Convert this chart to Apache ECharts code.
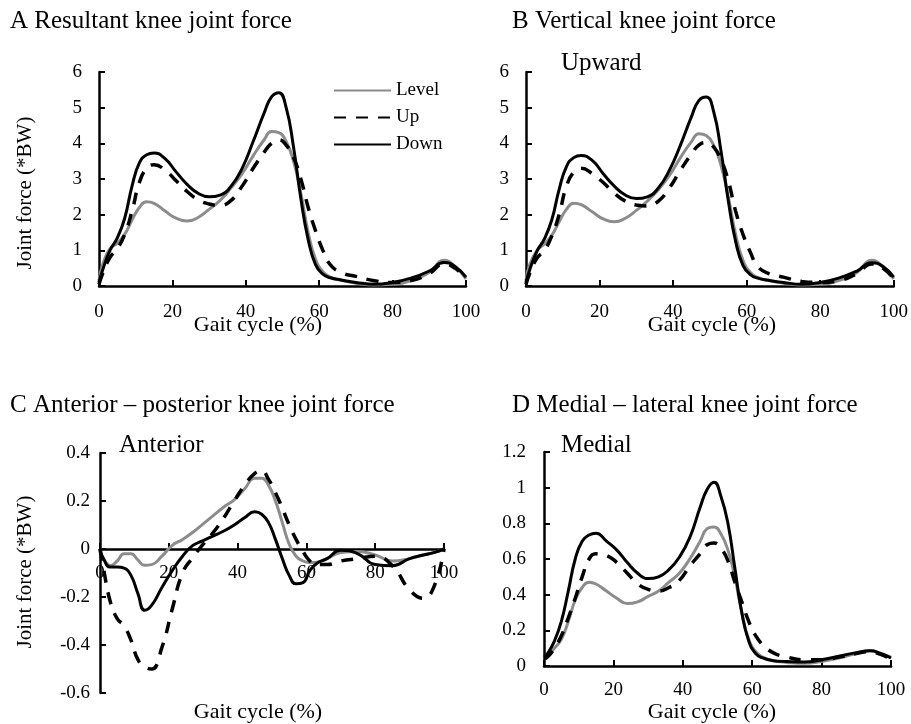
<!DOCTYPE html>
<html>
<head>
<meta charset="utf-8">
<script src="https://cdn.jsdelivr.net/npm/echarts@6/dist/echarts.min.js"></script>
<style>
  html, body { margin: 0; padding: 0; background: #fff; }
  #main { width: 911px; height: 724px; }
</style>
</head>
<body>
<div id="main"></div>
<script>
// gait cycle sample points (%)
var gait = [0,1,3,5,7,9,11,13,15,18,21,24,27,30,33,36,39,42,45,47,49,51,53,55,57,59,61,63,66,70,75,80,85,90,94,97,100];

// A resultant
var resLevel = [0.15,0.6,1.05,1.2,1.45,1.85,2.2,2.36,2.32,2.1,1.9,1.82,1.92,2.15,2.4,2.75,3.15,3.65,4.1,4.33,4.3,4.05,3.5,2.6,1.5,0.75,0.4,0.25,0.16,0.08,0.03,0.05,0.15,0.38,0.72,0.55,0.2];
var resUp    = [0.05,0.35,0.8,1.05,1.45,2.1,2.9,3.3,3.4,3.25,2.95,2.65,2.42,2.3,2.26,2.4,2.8,3.3,3.75,4.0,4.1,3.95,3.6,3.0,2.2,1.55,1.0,0.6,0.38,0.27,0.15,0.1,0.15,0.35,0.62,0.5,0.2];
var resDown  = [0.1,0.45,1.0,1.35,1.9,2.8,3.45,3.68,3.73,3.57,3.2,2.85,2.6,2.5,2.55,2.8,3.3,4.05,4.85,5.3,5.42,5.0,3.9,2.45,1.3,0.6,0.33,0.23,0.17,0.1,0.05,0.1,0.22,0.42,0.66,0.55,0.25];

// B vertical
var verLevel = [0.15,0.6,1.0,1.18,1.42,1.8,2.15,2.32,2.28,2.08,1.88,1.8,1.9,2.12,2.38,2.7,3.1,3.6,4.05,4.27,4.22,3.95,3.4,2.5,1.45,0.72,0.38,0.24,0.15,0.08,0.03,0.05,0.15,0.38,0.72,0.55,0.2];
var verUp    = [0.05,0.35,0.78,1.0,1.4,2.0,2.8,3.2,3.3,3.15,2.9,2.6,2.38,2.27,2.24,2.38,2.75,3.25,3.7,3.95,4.02,3.9,3.55,2.95,2.1,1.45,0.95,0.55,0.35,0.25,0.13,0.1,0.15,0.35,0.62,0.5,0.2];
var verDown  = [0.1,0.45,0.98,1.32,1.85,2.7,3.35,3.6,3.66,3.52,3.15,2.8,2.55,2.45,2.5,2.75,3.25,3.95,4.75,5.2,5.3,4.9,3.8,2.4,1.25,0.58,0.32,0.22,0.16,0.1,0.05,0.1,0.22,0.42,0.65,0.55,0.25];

// C anterior - posterior
var apLevel = [-0.01,-0.04,-0.07,-0.05,-0.02,-0.02,-0.045,-0.068,-0.065,-0.03,0.015,0.04,0.07,0.105,0.14,0.175,0.205,0.25,0.295,0.295,0.265,0.2,0.11,0.02,-0.03,-0.05,-0.056,-0.055,-0.04,-0.015,-0.01,-0.025,-0.05,-0.04,-0.025,-0.015,0];
var apUp    = [0,-0.08,-0.22,-0.29,-0.32,-0.38,-0.46,-0.49,-0.5,-0.41,-0.25,-0.1,-0.035,0.02,0.07,0.13,0.2,0.265,0.315,0.325,0.29,0.235,0.17,0.1,0.04,-0.01,-0.05,-0.065,-0.065,-0.05,-0.04,-0.03,-0.07,-0.17,-0.205,-0.16,0];
var apDown  = [0,-0.04,-0.075,-0.075,-0.08,-0.11,-0.185,-0.255,-0.235,-0.16,-0.09,-0.03,0.015,0.035,0.055,0.075,0.1,0.13,0.155,0.145,0.11,0.04,-0.04,-0.11,-0.145,-0.14,-0.09,-0.06,-0.04,-0.005,-0.02,-0.065,-0.07,-0.04,-0.025,-0.015,0];

// D medial - lateral
var mlLevel = [0.05,0.06,0.1,0.15,0.25,0.37,0.44,0.47,0.46,0.42,0.38,0.35,0.36,0.39,0.42,0.47,0.52,0.6,0.7,0.77,0.78,0.74,0.65,0.5,0.3,0.15,0.08,0.05,0.03,0.02,0.015,0.025,0.045,0.07,0.085,0.07,0.05];
var mlUp    = [0.04,0.05,0.1,0.17,0.27,0.38,0.5,0.6,0.63,0.62,0.58,0.52,0.46,0.43,0.42,0.44,0.48,0.56,0.63,0.68,0.69,0.66,0.59,0.47,0.36,0.25,0.17,0.12,0.075,0.05,0.035,0.035,0.05,0.07,0.08,0.065,0.04];
var mlDown  = [0.05,0.07,0.14,0.25,0.42,0.6,0.7,0.735,0.745,0.7,0.65,0.58,0.52,0.49,0.5,0.54,0.61,0.72,0.89,0.99,1.03,0.95,0.8,0.55,0.3,0.14,0.07,0.045,0.03,0.025,0.022,0.035,0.055,0.075,0.085,0.07,0.045];

var FONT = 'Liberation Serif';

function pairs(arr){
  return gait.map(function(x, i){ return [x, arr[i]]; });
}

function xAx(idx, margin, offset){
  return {
    type: 'value', gridIndex: idx, min: 0, max: 100, interval: 20, offset: offset || 0,
    axisLine: { onZero: false, lineStyle: { color: '#000', width: 2.5 } },
    axisTick: { inside: true, length: 6, lineStyle: { color: '#000', width: 2 } },
    axisLabel: { margin: margin, color: '#000', fontSize: 19, fontFamily: FONT },
    splitLine: { show: false }
  };
}
function yAx(idx, min, max, step, margin){
  return {
    type: 'value', gridIndex: idx, min: min, max: max, interval: step,
    axisLine: { show: true, onZero: false, lineStyle: { color: '#000', width: 2.5 } },
    axisTick: { show: true, inside: true, length: 6, lineStyle: { color: '#000', width: 2 } },
    axisLabel: { margin: margin, color: '#000', fontSize: 19, fontFamily: FONT },
    splitLine: { show: false }
  };
}
function trio(idx, lev, up, down){
  var base = { type: 'line', xAxisIndex: idx, yAxisIndex: idx, smooth: 0.5, symbol: 'none', showSymbol: false, silent: true };
  return [
    Object.assign({}, base, { name: 'Level', data: pairs(lev), lineStyle: { color: '#8c8c8c', width: 3 }, itemStyle: { color: '#8c8c8c' } }),
    Object.assign({}, base, { name: 'Up', data: pairs(up), lineStyle: { color: '#000', width: 3.5, type: [12, 10] }, itemStyle: { color: '#000' } }),
    Object.assign({}, base, { name: 'Down', data: pairs(down), lineStyle: { color: '#000', width: 3 }, itemStyle: { color: '#000' } })
  ];
}
function txt(s, x, y, size, align, rot){
  return {
    type: 'text', x: x, y: y, rotation: rot || 0,
    style: { text: s, fill: '#000', font: size + 'px "' + FONT + '"', textAlign: align || 'left', textVerticalAlign: 'middle' }
  };
}

var chart = echarts.init(document.getElementById('main'));
var option = {
  animation: false,
  backgroundColor: '#fff',
  grid: [
    { left: 99, top: 72, width: 367, height: 214 },
    { left: 526, top: 72, width: 368, height: 214 },
    { left: 100, top: 453, width: 344, height: 240 },
    { left: 544, top: 452, width: 347, height: 214 }
  ],
  // panel C: the x axis sits on the zero line (240px * 0.6 above the bottom)
  xAxis: [xAx(0, 17), xAx(1, 17), xAx(2, 15, -144), xAx(3, 15)],
  yAxis: [yAx(0, 0, 6, 1, 17), yAx(1, 0, 6, 1, 17), yAx(2, -0.6, 0.4, 0.2, 10), yAx(3, 0, 1.2, 0.2, 18)],
  legend: {
    orient: 'vertical', left: 333, top: 81, padding: 0, itemWidth: 57, itemHeight: 14, itemGap: 8,
    data: ['Level', 'Up', 'Down'],
    itemStyle: { opacity: 0 },
    textStyle: { color: '#000', fontSize: 19, fontFamily: FONT },
    selectedMode: false
  },
  graphic: [
    txt('A Resultant knee joint force', 10, 21, 25),
    txt('B Vertical knee joint force', 512, 21, 25),
    txt('C Anterior \u2013 posterior knee joint force', 10, 405, 25),
    txt('D Medial \u2013 lateral knee joint force', 512, 405, 25),
    txt('Upward', 561, 63, 25),
    txt('Anterior', 119, 445, 25),
    txt('Medial', 561, 445, 25),
    txt('Gait cycle (%)', 258, 325, 22, 'center'),
    txt('Gait cycle (%)', 712, 325, 22, 'center'),
    txt('Gait cycle (%)', 258, 712, 22, 'center'),
    txt('Gait cycle (%)', 712, 712, 22, 'center'),
    txt('Joint force (*BW)', 25, 193, 21, 'center', Math.PI / 2),
    txt('Joint force (*BW)', 25, 572, 21, 'center', Math.PI / 2)
  ],
  series: [].concat(
    trio(0, resLevel, resUp, resDown),
    trio(1, verLevel, verUp, verDown),
    trio(2, apLevel, apUp, apDown),
    trio(3, mlLevel, mlUp, mlDown)
  )
};
chart.setOption(option);
</script>
</body>
</html>
